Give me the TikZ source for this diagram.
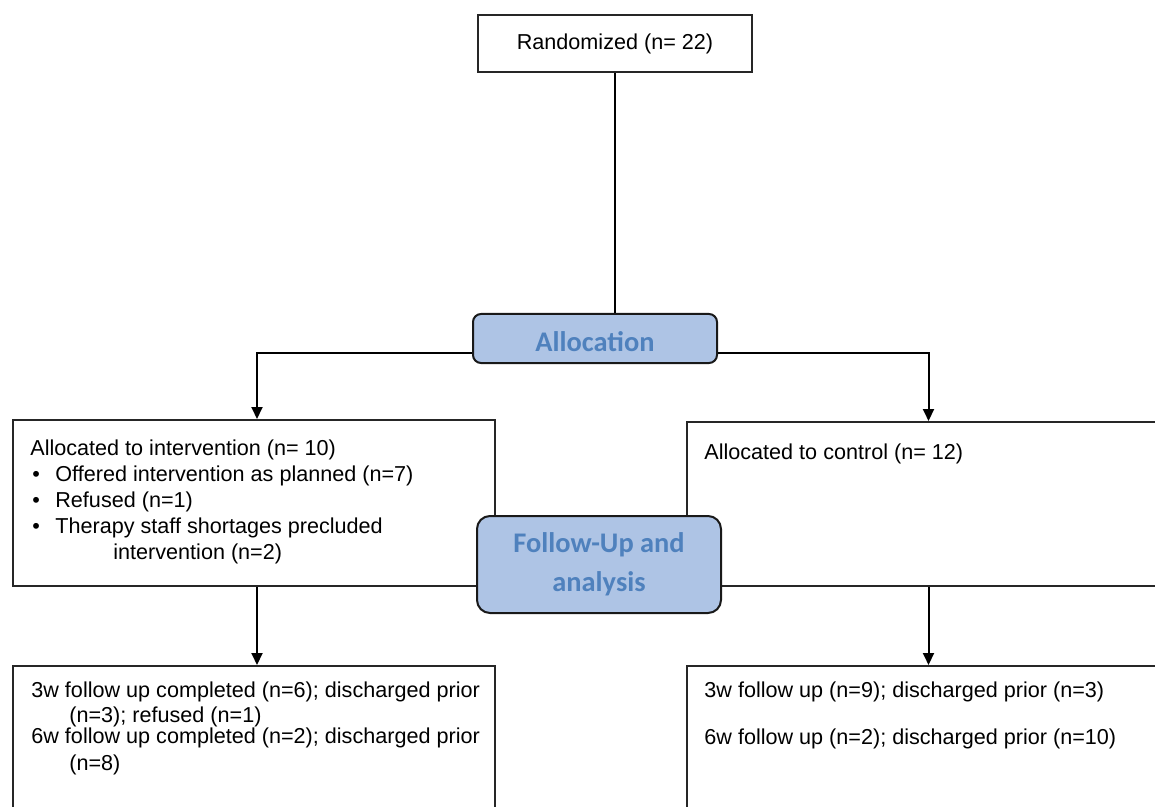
\documentclass[tikz,border=0pt]{standalone}
\usepackage{fontspec}
\setmainfont{Liberation Sans}
\newfontfamily\stagefont{Carlito}
\usetikzlibrary{arrows.meta}
\definecolor{stagefill}{RGB}{174,196,229}
\definecolor{stagetext}{RGB}{79,129,189}
\newcommand{\bulletitem}{\makebox[12.5pt][l]{\hspace{1pt}\textbullet}}

\begin{document}
\begin{tikzpicture}[x=0.5pt, y=-0.5pt,
    box/.style={draw=black!85, line width=1pt, inner sep=0pt},
    stage/.style={draw=black!90, line width=1pt, fill=stagefill, text=stagetext, align=center, inner sep=0pt,
                  font={\stagefont\bfseries\fontsize{14.2}{19.5}\selectfont}},
    txt/.style={anchor=base west, inner sep=0pt, font={\fontsize{10.8}{13.1}\selectfont}},
    arr/.style={line width=1pt, -{Triangle[length=6pt,width=5.5pt]}}]

                    \useasboundingbox (0,0) rectangle (1155,807);
                    \clip (0,0) rectangle (1155,807);

                    % boxes
                    \node[box, minimum width=137pt, minimum height=28.5pt] (rand) at (615,43.5) {\fontsize{10.8}{13}\selectfont Randomized (n= 22)};
                    \node[box, minimum width=241pt, minimum height=83pt] (interv) at (254,503) {};
                    \node[box, minimum width=241.5pt, minimum height=82pt] (control) at (928.5,504) {};
                    \node[box, minimum width=241pt, minimum height=82pt] (intervfu) at (254,748) {};
                    \node[box, minimum width=241.5pt, minimum height=82pt] (controlfu) at (928.5,748) {};

                    \node[stage, rounded corners=4pt, minimum width=122pt, minimum height=24.5pt, text height=13pt] (alloc) at (595,338.5) {Allocation};
                    \node[stage, rounded corners=6.5pt, minimum width=122pt, minimum height=48.5pt] (fu) at (599,564.5) {Follow-Up and\\analysis};

                    % texts
                    \node[txt] (intervtxt) at (30,455) {\begin{tabular}[t]{@{}l@{}}
                        Allocated to intervention (n= 10)\\
                        \bulletitem Offered intervention as planned (n=7)\\
                        \bulletitem Refused (n=1)\\
                        \bulletitem Therapy staff shortages precluded\\
                        \hspace*{41.5pt}intervention (n=2)
                        \end{tabular}};
                    \node[txt] (controltxt) at (704,459) {Allocated to control (n= 12)};
                    \node[txt, font={\fontsize{10.8}{12}\selectfont}] (intervfutxt) at (31,697) {\begin{tabular}[t]{@{}l@{}}
                        3w follow up completed (n=6); discharged prior\\[0.5pt]
                        \hspace*{19pt}(n=3); refused (n=1)\\[-1.5pt]
                        6w follow up completed (n=2); discharged prior\\[1.5pt]
                        \hspace*{19pt}(n=8)
                        \end{tabular}};
                    \node[txt, font={\fontsize{10.8}{12}\selectfont}] (controlfutxt) at (704,697) {\begin{tabular}[t]{@{}l@{}}
                        3w follow up (n=9); discharged prior (n=3)\\[11.5pt]
                        6w follow up (n=2); discharged prior (n=10)
                        \end{tabular}};

                    % connectors
                    \draw[line width=1pt] (rand.south) -- (rand.south |- alloc.north);
                    \draw[arr] ([yshift=-7pt]alloc.west) -| ([xshift=1.5pt]interv.north);
                    \draw[arr] ([yshift=-7pt]alloc.east) -| (control.north);
                    \draw[arr] ([xshift=1.5pt]interv.south) -- ([xshift=1.5pt]intervfu.north);
                    \draw[arr] (control.south) -- (controlfu.north);

                \end{tikzpicture}
\end{document}
